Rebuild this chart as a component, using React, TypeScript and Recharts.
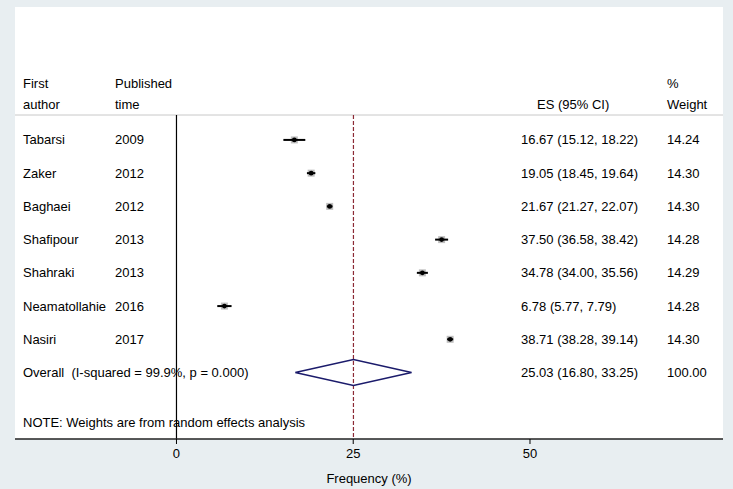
import {
  ScatterChart, Scatter, XAxis, YAxis, ErrorBar, ReferenceLine, CartesianGrid,
} from "recharts";

const authors = ["Tabarsi", "Zaker", "Baghaei", "Shafipour", "Shahraki", "Neamatollahie", "Nasiri"];
const years = ["2009", "2012", "2012", "2013", "2013", "2016", "2017"];
const estimates = [16.67, 19.05, 21.67, 37.5, 34.78, 6.78, 38.71];
const lower = [15.12, 18.45, 21.27, 36.58, 34.0, 5.77, 38.28];
const upper = [18.22, 19.64, 22.07, 38.42, 35.56, 7.79, 39.14];
const weights = ["14.24", "14.30", "14.30", "14.28", "14.29", "14.28", "14.30"];

const overallEs = 25.03;
const overallLo = 16.8;
const overallHi = 33.25;
const overallWeight = "100.00";
const overallLabel = "Overall  (I-squared = 99.9%, p = 0.000)";
const noteText = "NOTE: Weights are from random effects analysis";
const xTicks = [0, 25, 50];

const FONT = "'Liberation Sans', Arial, sans-serif";
const W = 733;
const H = 489;

const studies = authors.map((a, i) => ({
  x: estimates[i],
  y: i,
  author: a,
  year: years[i],
  err: [estimates[i] - lower[i], upper[i] - estimates[i]],
  ci: `${estimates[i].toFixed(2)} (${lower[i].toFixed(2)}, ${upper[i].toFixed(2)})`,
  weight: weights[i],
}));

const overallRow = authors.length;
const textRows = [
  ...studies,
  {
    x: overallEs, y: overallRow, author: overallLabel, year: "",
    ci: `${overallEs.toFixed(2)} (${overallLo.toFixed(2)}, ${overallHi.toFixed(2)})`,
    weight: overallWeight,
  },
  { x: 0, y: overallRow + 1.5, author: noteText, year: "", ci: "", weight: "" },
];

// diamond for the pooled estimate, half-height in row units
const dh = 0.39;
const diamond = [
  { x: overallLo, y: overallRow },
  { x: overallEs, y: overallRow - dh },
  { x: overallHi, y: overallRow },
  { x: overallEs, y: overallRow + dh },
  { x: overallLo, y: overallRow },
];

// weight box: translucent black so the CI line under it stays black
function BoxShape(p: any) {
  return <rect x={p.cx - 3.5} y={p.cy - 3.5} width={7} height={7} fill="#000" fillOpacity={0.25} />;
}

function DotShape(p: any) {
  return <circle cx={p.cx} cy={p.cy} r={2.4} fill="#000" />;
}

const pre: React.CSSProperties = { whiteSpace: "pre" };

function TextShape(p: any) {
  const d = p.payload;
  return (
    <g fontFamily={FONT} fontSize={13} fill="#000">
      <text x={23} y={p.cy} dy={4.5} style={pre} xmlSpace="preserve">{d.author}</text>
      {d.year && <text x={115} y={p.cy} dy={4.5}>{d.year}</text>}
      {d.ci && <text x={521} y={p.cy} dy={4.5}>{d.ci}</text>}
      {d.weight && <text x={667} y={p.cy} dy={4.5}>{d.weight}</text>}
    </g>
  );
}

const headStyle: React.CSSProperties = {
  position: "absolute", fontFamily: FONT, fontSize: 13, lineHeight: "21px", color: "#000",
};

export default function App() {
  return (
    <div style={{ position: "absolute", left: 0, top: 0, width: W, height: H, background: "#E8EEF1" }}>
      <ScatterChart width={W} height={H} margin={{ top: 7, right: 10, bottom: 0, left: 15 }}>
        <CartesianGrid fill="#FFFFFF" horizontal={false} vertical={false} />
        <XAxis
          type="number"
          dataKey="x"
          domain={[-22.84, 77.3]}
          allowDataOverflow
          ticks={xTicks}
          height={50}
          axisLine={{ stroke: "#222", strokeWidth: 1.5 }}
          tickLine={{ stroke: "#000" }}
          tickSize={5}
          tickMargin={5}
          tick={{ fontSize: 13, fill: "#000", fontFamily: FONT }}
          label={{ value: "Frequency (%)", position: "insideBottom", offset: 6, fontSize: 13, fill: "#000", fontFamily: FONT }}
        />
        <YAxis type="number" dataKey="y" domain={[-4, 9]} reversed hide allowDataOverflow />
        <ReferenceLine y={-0.75} stroke="#C8C8C8" strokeWidth={1} />
        <ReferenceLine
          segment={[{ x: 0, y: -0.75 }, { x: 0, y: 9 }]}
          stroke="#000"
          strokeWidth={1.2}
        />
        <ReferenceLine
          segment={[{ x: overallEs, y: -0.75 }, { x: overallEs, y: 9 }]}
          stroke="#8C2A35"
          strokeWidth={1.2}
          strokeDasharray="4 2"
        />
        <Scatter data={studies} shape={BoxShape} isAnimationActive={false} />
        <Scatter data={studies} shape={DotShape} isAnimationActive={false}>
          <ErrorBar dataKey="err" direction="x" width={0} stroke="#000" strokeWidth={2} />
        </Scatter>
        <Scatter
          data={diamond}
          line={{ stroke: "#1B1B6B", strokeWidth: 1.5 }}
          shape={() => <g />}
          isAnimationActive={false}
        />
        <Scatter data={textRows} shape={TextShape} isAnimationActive={false} />
      </ScatterChart>
      <div style={{ ...headStyle, left: 23, top: 73 }}>First<br />author</div>
      <div style={{ ...headStyle, left: 115, top: 73 }}>Published<br />time</div>
      <div style={{ ...headStyle, left: 537, top: 94 }}>ES (95% CI)</div>
      <div style={{ ...headStyle, left: 667, top: 73 }}>%<br />Weight</div>
    </div>
  );
}
